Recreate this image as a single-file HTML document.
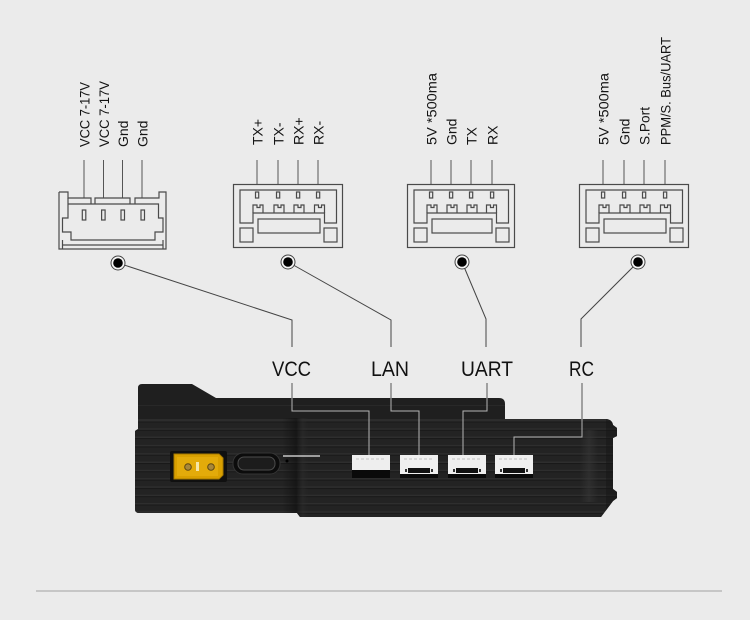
<!DOCTYPE html>
<html><head><meta charset="utf-8"><style>
html,body{margin:0;padding:0;background:#ebebeb;}
svg{display:block;}
text{font-family:"Liberation Sans",Arial,sans-serif;}
</style></head><body>
<svg width="750" height="620" viewBox="0 0 750 620" xmlns="http://www.w3.org/2000/svg">
<defs>
 <pattern id="gr" x="0" y="420" width="8" height="8.3" patternUnits="userSpaceOnUse">
  <rect width="8" height="8.3" fill="#232323"/>
  <rect y="0" width="8" height="1.5" fill="#2e2e2e"/>
  <rect y="1.5" width="8" height="1" fill="#181818"/>
 </pattern>
 <clipPath id="bc"><path d="M142,384 H192 L216,398 H499 Q505,398 505,404 V419 H605 Q612,419 613,425 L617,428 V436 L613,438 V489 L617,492 V498 L613,501 L601,517 H300 L297,513 H139 Q135,513 135,509 V431 L138,429 V388 Q138,384 142,384 Z"/></clipPath>
 <linearGradient id="sh" x1="0" x2="1" y1="0" y2="0">
  <stop offset="0" stop-color="#101010" stop-opacity="0"/>
  <stop offset="0.55" stop-color="#0e0e0e" stop-opacity="0.6"/>
  <stop offset="0.8" stop-color="#2e2e2e" stop-opacity="0.4"/>
  <stop offset="1" stop-color="#2e2e2e" stop-opacity="0"/>
 </linearGradient>
 <linearGradient id="rb" x1="0" x2="1" y1="0" y2="0">
  <stop offset="0" stop-color="#3a3a3a" stop-opacity="0"/>
  <stop offset="0.5" stop-color="#3a3a3a" stop-opacity="0.5"/>
  <stop offset="1" stop-color="#3a3a3a" stop-opacity="0"/>
 </linearGradient>
</defs>
<rect width="750" height="620" fill="#ebebeb"/>

<!-- rotated pin labels -->
<g font-size="14" fill="#141414">
 <text transform="translate(89.5,147) rotate(-90)" textLength="65" lengthAdjust="spacingAndGlyphs">VCC 7-17V</text>
 <text transform="translate(109,147) rotate(-90)" textLength="66" lengthAdjust="spacingAndGlyphs">VCC 7-17V</text>
 <text transform="translate(128,147) rotate(-90)">Gnd</text>
 <text transform="translate(147.5,147) rotate(-90)">Gnd</text>

 <text transform="translate(262.5,145) rotate(-90)">TX+</text>
 <text transform="translate(283.5,145) rotate(-90)">TX-</text>
 <text transform="translate(303.5,145) rotate(-90)">RX+</text>
 <text transform="translate(323.5,145) rotate(-90)">RX-</text>

 <text transform="translate(436.5,145) rotate(-90)" textLength="72" lengthAdjust="spacingAndGlyphs">5V *500ma</text>
 <text transform="translate(456.5,145) rotate(-90)">Gnd</text>
 <text transform="translate(476.5,145) rotate(-90)">TX</text>
 <text transform="translate(497.5,145) rotate(-90)">RX</text>

 <text transform="translate(608.5,145) rotate(-90)" textLength="72" lengthAdjust="spacingAndGlyphs">5V *500ma</text>
 <text transform="translate(629.5,145) rotate(-90)">Gnd</text>
 <text transform="translate(649.5,145) rotate(-90)" textLength="38" lengthAdjust="spacingAndGlyphs">S.Port</text>
 <text transform="translate(670.5,145) rotate(-90)" textLength="108" lengthAdjust="spacingAndGlyphs">PPM/S. Bus/UART</text>
</g>

<!-- wires -->
<g stroke="#555" stroke-width="1" fill="none">
 <path d="M84,160 V198 M103.5,160 V198 M122.5,160 V198 M142,160 V198"/>
 <path d="M257,160 V184 M278,160 V184 M298,160 V184 M318,160 V184"/>
 <path d="M431,160 V184 M451,160 V184 M471,160 V184 M492,160 V184"/>
 <path d="M603,160 V184 M624,160 V184 M644,160 V184 M665,160 V184"/>
</g>

<!-- connector 1 (VCC) -->
<g stroke="#4a4a4a" stroke-width="1.2" fill="none">
 <path d="M59,192 H68 V198 H91 V204"/>
 <path d="M95,204 V198 H130 V204"/>
 <path d="M135,204 V198 H159 V192 H166 V249 H59 V192"/>
 <path d="M68,198 V218 H62.5 V232 H71 V240 H155 V232 H163 V218 H158.5 V204 H68"/>
 <path d="M62.5,240 V249 M62.5,245 H163 M163,240 V249"/>
 <rect x="82.3" y="210" width="3.5" height="10"/>
 <rect x="101.6" y="210" width="3.5" height="10"/>
 <rect x="121" y="210" width="3.5" height="10"/>
 <rect x="141" y="210" width="3.5" height="10"/>
</g>

<!-- connectors 2,3,4 -->
<g stroke="#4a4a4a" stroke-width="1.2" fill="none">
 <g transform="translate(233,184)">
  <rect x="0.5" y="0.5" width="109" height="63"/>
  <path d="M7,6 H103.5 V39 H91.5 V29 H20 V39 H7 Z"/>
  <rect x="22.5" y="8" width="3.2" height="6"/><rect x="43.5" y="8" width="3.2" height="6"/><rect x="63.5" y="8" width="3.2" height="6"/><rect x="83.5" y="8" width="3.2" height="6"/>
  <path d="M20,29 V21 H24 V23.5 H27 V21 H30 V29 M41,29 V21 H45 V23.5 H48 V21 H51 V29 M61,29 V21 H65 V23.5 H68 V21 H71 V29 M81.5,29 V21 H85.5 V23.5 H88.5 V21 H91.5 V29"/>
  <rect x="25" y="35" width="62" height="14"/>
  <rect x="7" y="44" width="13" height="14"/><rect x="91" y="44" width="13" height="14"/>
 </g>
 <g transform="translate(407,184)">
  <rect x="0.5" y="0.5" width="107" height="63"/>
  <path d="M7,6 H101.5 V39 H89.5 V29 H20 V39 H7 Z"/>
  <rect x="22.5" y="8" width="3.2" height="6"/><rect x="42.5" y="8" width="3.2" height="6"/><rect x="62.5" y="8" width="3.2" height="6"/><rect x="83.5" y="8" width="3.2" height="6"/>
  <path d="M20,29 V21 H24 V23.5 H27 V21 H30 V29 M40,29 V21 H44 V23.5 H47 V21 H50 V29 M60,29 V21 H64 V23.5 H67 V21 H70 V29 M79.5,29 V21 H83.5 V23.5 H86.5 V21 H89.5 V29"/>
  <rect x="25" y="35" width="60" height="14"/>
  <rect x="7" y="44" width="13" height="14"/><rect x="89" y="44" width="13" height="14"/>
 </g>
 <g transform="translate(579,184)">
  <rect x="0.5" y="0.5" width="109" height="63"/>
  <path d="M7,6 H103.5 V39 H91.5 V29 H20 V39 H7 Z"/>
  <rect x="22.5" y="8" width="3.2" height="6"/><rect x="43.5" y="8" width="3.2" height="6"/><rect x="63.5" y="8" width="3.2" height="6"/><rect x="84.5" y="8" width="3.2" height="6"/>
  <path d="M20,29 V21 H24 V23.5 H27 V21 H30 V29 M41,29 V21 H45 V23.5 H48 V21 H51 V29 M61,29 V21 H65 V23.5 H68 V21 H71 V29 M81.5,29 V21 H85.5 V23.5 H88.5 V21 H91.5 V29"/>
  <rect x="25" y="35" width="62" height="14"/>
  <rect x="7" y="44" width="13" height="14"/><rect x="91" y="44" width="13" height="14"/>
 </g>
</g>

<!-- upper leader lines -->
<g stroke="#444" stroke-width="1" fill="none">
 <path d="M118,263 L292,320 V347"/>
 <path d="M288,262 L391,320 V347"/>
 <path d="M462,262 L486,319 V347"/>
 <path d="M638,262 L581,319 V347"/>
</g>
<!-- dots -->
<g>
 <circle cx="118" cy="263" r="7" fill="#f6f6f6" stroke="#444" stroke-width="1"/><circle cx="118" cy="263" r="4.8" fill="#000"/>
 <circle cx="288" cy="262" r="7" fill="#f6f6f6" stroke="#444" stroke-width="1"/><circle cx="288" cy="262" r="4.8" fill="#000"/>
 <circle cx="462" cy="262" r="7" fill="#f6f6f6" stroke="#444" stroke-width="1"/><circle cx="462" cy="262" r="4.8" fill="#000"/>
 <circle cx="638" cy="262" r="7" fill="#f6f6f6" stroke="#444" stroke-width="1"/><circle cx="638" cy="262" r="4.8" fill="#000"/>
</g>

<!-- port labels -->
<g font-size="21" fill="#111">
 <text x="272" y="376" textLength="39" lengthAdjust="spacingAndGlyphs">VCC</text>
 <text x="371" y="376" textLength="38" lengthAdjust="spacingAndGlyphs">LAN</text>
 <text x="461" y="376" textLength="52" lengthAdjust="spacingAndGlyphs">UART</text>
 <text x="569" y="376" textLength="25" lengthAdjust="spacingAndGlyphs">RC</text>
</g>

<!-- device body -->
<path d="M142,384 H192 L216,398 H499 Q505,398 505,404 V419 H605 Q612,419 613,425 L617,428 V436 L613,438 V489 L617,492 V498 L613,501 L601,517 H300 L297,513 H139 Q135,513 135,509 V431 L138,429 V388 Q138,384 142,384 Z" fill="#1f1f1f"/>
<g clip-path="url(#bc)">
 <rect x="130" y="420" width="500" height="100" fill="url(#gr)"/>
 <rect x="130" y="405" width="380" height="1" fill="#282828"/>
 <rect x="130" y="419" width="500" height="1.5" fill="#2c2c2c"/>
 <rect x="282" y="418" width="26" height="100" fill="url(#sh)"/>
 <rect x="580" y="430" width="18" height="72" fill="url(#rb)"/>
 <rect x="606" y="419" width="12" height="100" fill="#151515" opacity="0.5"/>
</g>

<!-- XT30 -->
<rect x="170" y="451" width="57" height="31" rx="2" fill="#101010"/>
<path d="M174,454 H219 L223,458 V475 L219,479 H174 Z" fill="#d9a000" stroke="#a67a00" stroke-width="1"/>
<rect x="177" y="457" width="41" height="19" fill="#e3ab0a"/>
<circle cx="188" cy="467" r="3.3" fill="#a8873a" stroke="#5e4710" stroke-width="1"/>
<circle cx="211" cy="467" r="3.3" fill="#a8873a" stroke="#5e4710" stroke-width="1"/>
<rect x="196" y="462" width="3" height="9" fill="#f5e6a8"/>

<!-- USB-C -->
<rect x="233" y="453" width="47" height="21" rx="10" fill="#0c0c0c" stroke="#353535" stroke-width="1"/>
<rect x="238" y="457" width="37" height="13" rx="6" fill="#1c1c1c" stroke="#4c4c4c" stroke-width="1"/>
<line x1="283" y1="456" x2="320" y2="456" stroke="#c8c8c8" stroke-width="1.5"/>
<circle cx="287" cy="461" r="1.5" fill="#000"/>

<!-- white connectors on device -->
<rect x="352" y="470" width="38" height="8" fill="#0a0a0a"/>
<rect x="352" y="455" width="38" height="15" fill="#eeeeee"/>
<line x1="356" y1="459" x2="386" y2="459" stroke="#c4c4c4" stroke-width="1" stroke-dasharray="3 2"/>

<g>
 <rect x="400" y="473" width="38" height="5" fill="#0a0a0a"/>
 <rect x="400" y="455" width="38" height="19" fill="#efefef"/>
 <line x1="404" y1="459" x2="434" y2="459" stroke="#c0c0c0" stroke-width="1" stroke-dasharray="3 2"/>
 <rect x="408" y="468" width="22" height="5" fill="#111"/>
 <rect x="405" y="469" width="2" height="3" fill="#333"/><rect x="431" y="469" width="2" height="3" fill="#333"/>

 <rect x="448" y="473" width="38" height="5" fill="#0a0a0a"/>
 <rect x="448" y="455" width="38" height="19" fill="#efefef"/>
 <line x1="452" y1="459" x2="482" y2="459" stroke="#c0c0c0" stroke-width="1" stroke-dasharray="3 2"/>
 <rect x="456" y="468" width="22" height="5" fill="#111"/>
 <rect x="453" y="469" width="2" height="3" fill="#333"/><rect x="479" y="469" width="2" height="3" fill="#333"/>

 <rect x="495" y="473" width="38" height="5" fill="#0a0a0a"/>
 <rect x="495" y="455" width="38" height="19" fill="#efefef"/>
 <line x1="499" y1="459" x2="529" y2="459" stroke="#c0c0c0" stroke-width="1" stroke-dasharray="3 2"/>
 <rect x="503" y="468" width="22" height="5" fill="#111"/>
 <rect x="500" y="469" width="2" height="3" fill="#333"/><rect x="526" y="469" width="2" height="3" fill="#333"/>
</g>

<!-- lower leader lines -->
<g stroke="#555" stroke-width="1" fill="none">
 <path d="M292,383 V411 H369 V455"/>
 <path d="M391,383 V411 H419 V455"/>
 <path d="M487,383 V411 H463 V455"/>
 <path d="M582,383 V437 H514 V455"/>
</g>
<g stroke="#b4b4b4" stroke-width="1" fill="none" clip-path="url(#bc)">
 <path d="M292,383 V411 H369 V455"/>
 <path d="M391,383 V411 H419 V455"/>
 <path d="M487,383 V411 H463 V455"/>
 <path d="M582,383 V437 H514 V455"/>
</g>

<!-- bottom rule -->
<line x1="36" y1="591" x2="722" y2="591" stroke="#c6c6c6" stroke-width="2"/>
</svg>
</body></html>
